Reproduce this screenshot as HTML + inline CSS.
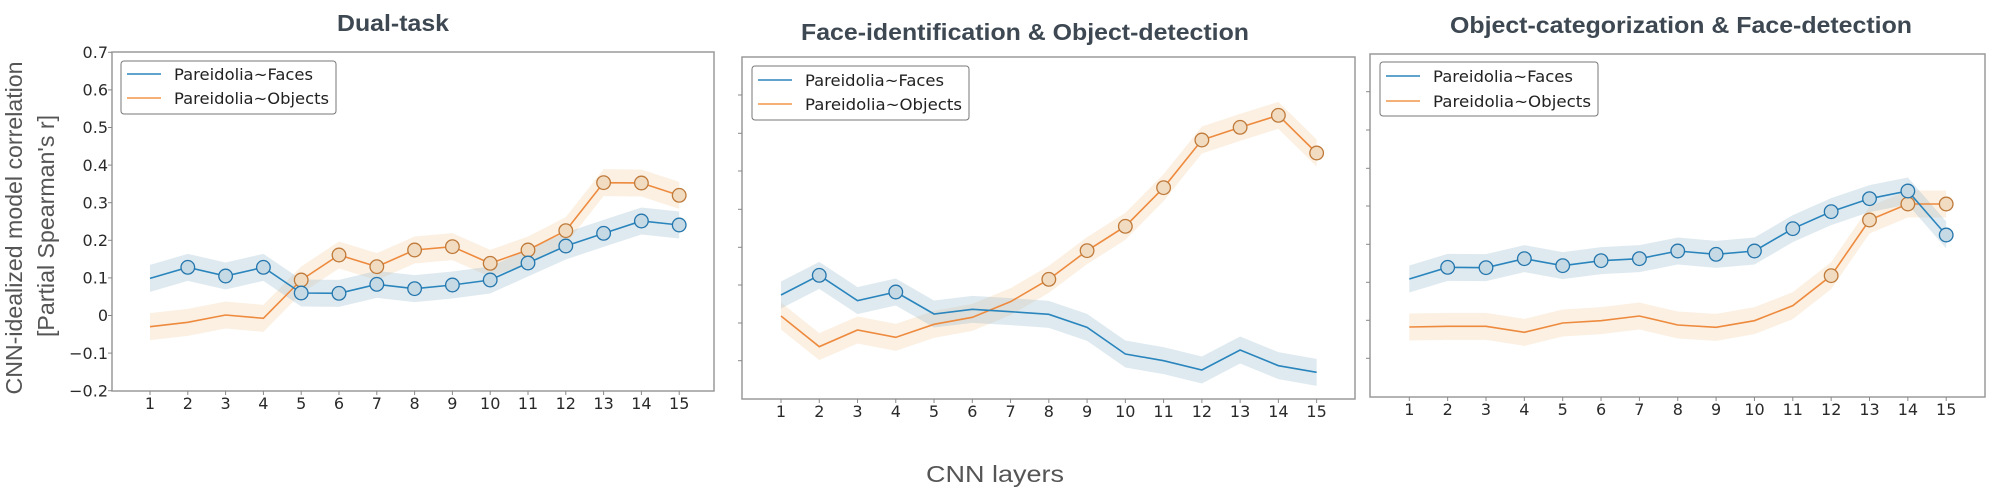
<!DOCTYPE html>
<html><head><meta charset="utf-8"><style>
html,body{margin:0;padding:0;background:#fff;}
svg{display:block;}
.t{font-family:"Liberation Sans Narrow","Liberation Sans",sans-serif;font-weight:bold;fill:#3d4852;font-size:23px;}
.tk{font-family:"DejaVu Sans","Liberation Sans",sans-serif;font-size:16px;fill:#2a2a2a;}
.lg{font-family:"DejaVu Sans","Liberation Sans",sans-serif;font-size:16px;fill:#222;}
.al{font-family:"Liberation Sans",sans-serif;font-size:23px;fill:#555;}
</style></head><body>
<svg id="s" width="2000" height="491" viewBox="0 0 2000 491" xmlns="http://www.w3.org/2000/svg">
<g id="data"></g>
<rect x="112" y="52" width="602" height="339" fill="none" stroke="#9a9a9a" stroke-width="1.5"/>
<rect x="742" y="57" width="613" height="342" fill="none" stroke="#9a9a9a" stroke-width="1.5"/>
<rect x="1370" y="54" width="615" height="343" fill="none" stroke="#9a9a9a" stroke-width="1.5"/>
<g id="ticks" stroke="#888" stroke-width="1"></g>
<text class="t" x="393" y="31" text-anchor="middle" textLength="112" lengthAdjust="spacingAndGlyphs">Dual-task</text>
<text class="t" x="1025" y="40" text-anchor="middle" textLength="448" lengthAdjust="spacingAndGlyphs">Face-identification &amp; Object-detection</text>
<text class="t" x="1681" y="33" text-anchor="middle" textLength="462" lengthAdjust="spacingAndGlyphs">Object-categorization &amp; Face-detection</text>
<g class="tk" text-anchor="end">
<text x="108" y="58">0.7</text>
<text x="108" y="95.6">0.6</text>
<text x="108" y="133.2">0.5</text>
<text x="108" y="170.8">0.4</text>
<text x="108" y="208.4">0.3</text>
<text x="108" y="246">0.2</text>
<text x="108" y="283.6">0.1</text>
<text x="108" y="321.2">0</text>
<text x="108" y="358.8">−0.1</text>
<text x="108" y="396.4">−0.2</text>
</g>
<g id="xl" class="tk" text-anchor="middle">
<text x="150" y="409">1</text><text x="187.8" y="409">2</text><text x="225.6" y="409">3</text><text x="263.4" y="409">4</text><text x="301.2" y="409">5</text><text x="339" y="409">6</text><text x="376.8" y="409">7</text><text x="414.6" y="409">8</text><text x="452.4" y="409">9</text><text x="490.2" y="409">10</text><text x="528" y="409">11</text><text x="565.8" y="409">12</text><text x="603.6" y="409">13</text><text x="641.4" y="409">14</text><text x="679.2" y="409">15</text>
<text x="781" y="417">1</text><text x="819.3" y="417">2</text><text x="857.5" y="417">3</text><text x="895.8" y="417">4</text><text x="934" y="417">5</text><text x="972.3" y="417">6</text><text x="1010.6" y="417">7</text><text x="1048.8" y="417">8</text><text x="1087.1" y="417">9</text><text x="1125.3" y="417">10</text><text x="1163.6" y="417">11</text><text x="1201.9" y="417">12</text><text x="1240.1" y="417">13</text><text x="1278.4" y="417">14</text><text x="1316.6" y="417">15</text>
<text x="1409.3" y="415">1</text><text x="1447.7" y="415">2</text><text x="1486" y="415">3</text><text x="1524.4" y="415">4</text><text x="1562.7" y="415">5</text><text x="1601.1" y="415">6</text><text x="1639.4" y="415">7</text><text x="1677.8" y="415">8</text><text x="1716.1" y="415">9</text><text x="1754.5" y="415">10</text><text x="1792.8" y="415">11</text><text x="1831.2" y="415">12</text><text x="1869.5" y="415">13</text><text x="1907.9" y="415">14</text><text x="1946.2" y="415">15</text>
</g>
<rect x="121" y="61" width="215" height="53" rx="3" fill="#fff" stroke="#777" stroke-width="1"/>
<line x1="127" y1="74" x2="161" y2="74" stroke="#2b86bd" stroke-width="1.5"/>
<line x1="127" y1="98" x2="161" y2="98" stroke="#f0954a" stroke-width="1.5"/>
<text class="lg" x="174" y="80" textLength="139" lengthAdjust="spacingAndGlyphs">Pareidolia~Faces</text>
<text class="lg" x="174" y="104" textLength="155" lengthAdjust="spacingAndGlyphs">Pareidolia~Objects</text>
<rect x="752" y="66" width="217" height="54" rx="3" fill="#fff" stroke="#777" stroke-width="1"/>
<line x1="758" y1="80" x2="792" y2="80" stroke="#2b86bd" stroke-width="1.5"/>
<line x1="758" y1="104" x2="792" y2="104" stroke="#f0954a" stroke-width="1.5"/>
<text class="lg" x="805" y="86" textLength="139" lengthAdjust="spacingAndGlyphs">Pareidolia~Faces</text>
<text class="lg" x="805" y="110" textLength="157" lengthAdjust="spacingAndGlyphs">Pareidolia~Objects</text>
<rect x="1380" y="62" width="218" height="54" rx="3" fill="#fff" stroke="#777" stroke-width="1"/>
<line x1="1386" y1="76" x2="1420" y2="76" stroke="#2b86bd" stroke-width="1.5"/>
<line x1="1386" y1="101" x2="1420" y2="101" stroke="#f0954a" stroke-width="1.5"/>
<text class="lg" x="1433" y="82" textLength="140" lengthAdjust="spacingAndGlyphs">Pareidolia~Faces</text>
<text class="lg" x="1433" y="107" textLength="158" lengthAdjust="spacingAndGlyphs">Pareidolia~Objects</text>
<text class="al" transform="translate(22,228) rotate(-90)" text-anchor="middle" textLength="333" lengthAdjust="spacingAndGlyphs">CNN-idealized model correlation</text>
<text class="al" transform="translate(54,226) rotate(-90)" text-anchor="middle" textLength="222" lengthAdjust="spacingAndGlyphs">[Partial Spearman's r]</text>
<text class="al" x="995" y="482" text-anchor="middle" textLength="138" lengthAdjust="spacingAndGlyphs">CNN layers</text>
</svg>
<script>
(function(){
var NS="http://www.w3.org/2000/svg";
var g=document.getElementById('data'), tg=document.getElementById('ticks');
function el(n,a,p){var e=document.createElementNS(NS,n);for(var k in a)e.setAttribute(k,a[k]);(p||g).appendChild(e);return e;}
var panels=[
 {x1:150,dx:37.8,oy:0,bottom:391,left:112,yt:null,
  f:[835,802,828,802,879,880,853,866,855,840,789,738,700,663,675],fm:[2,3,4,5,6,7,8,9,10,11,12,13,14,15],
  o:[980,967,945,955,840,765,800,750,740,790,750,692,548,549,586],om:[5,6,7,8,9,10,11,12,13,14,15]},
 {x1:781,dx:38.26,oy:40,bottom:399,left:742,yt:[95,133.3,171,209.3,247.3,285,323,360.7],
  f:[765,706,782,756,822,808,815,823,862,942,962,990,930,977,997],fm:[2,4],
  o:[828,920,870,892,853,832,785,718,632,559,443,300,262,226,339],om:[8,9,10,11,12,13,14,15]},
 {x1:1409.3,dx:38.35,oy:40,bottom:397,left:1370,yt:[91.7,130,168.3,206,244.3,282.3,320.3,358.3],
  f:[717,682,683,656,677,662,656,633,643,633,566,515,476,453,585],fm:[2,3,4,5,6,7,8,9,10,11,12,13,14,15],
  o:[861,859,859,877,849,842,828,855,862,842,797,707,540,492,492],om:[12,13,14,15]}
];
var series=[
 {k:'o',km:'om',band:'rgba(240,200,150,0.28)',line:'#ee8a3e',mf:'#f2dcc1',ms:'#bf7a3a'},
 {k:'f',km:'fm',band:'rgba(140,180,200,0.28)',line:'#2a85bd',mf:'#c5dae5',ms:'#2476ad'}
];
panels.forEach(function(p){
  var ys=function(v){return v/3+p.oy;};
  for(var i=0;i<15;i++){var x=p.x1+i*p.dx;el('line',{x1:x,y1:p.bottom,x2:x,y2:p.bottom+4},tg);}
  var yt=p.yt||[52.3,89.9,127.5,165.1,202.7,240.3,277.9,315.5,353.1,390.7];
  yt.forEach(function(y){el('line',{x1:p.left-4,y1:y,x2:p.left,y2:y},tg);});
  series.forEach(function(s){
    var d=p[s.k],up=[],lo=[];
    for(var i=0;i<15;i++){var x=p.x1+i*p.dx,y=ys(d[i]);up.push(x+','+(y-13.5));lo.unshift(x+','+(y+13.5));}
    el('polygon',{points:up.concat(lo).join(' '),fill:s.band});
  });
  series.forEach(function(s){
    var d=p[s.k],pts=[];
    for(var i=0;i<15;i++)pts.push((p.x1+i*p.dx)+','+ys(d[i]));
    el('polyline',{points:pts.join(' '),fill:'none',stroke:s.line,'stroke-width':1.6});
  });
  series.forEach(function(s){
    p[s.km].forEach(function(n){
      el('circle',{cx:p.x1+(n-1)*p.dx,cy:ys(p[s.k][n-1]),r:6.8,fill:s.mf,stroke:s.ms,'stroke-width':1.3});
    });
  });
});
})();
</script>
</body></html>
